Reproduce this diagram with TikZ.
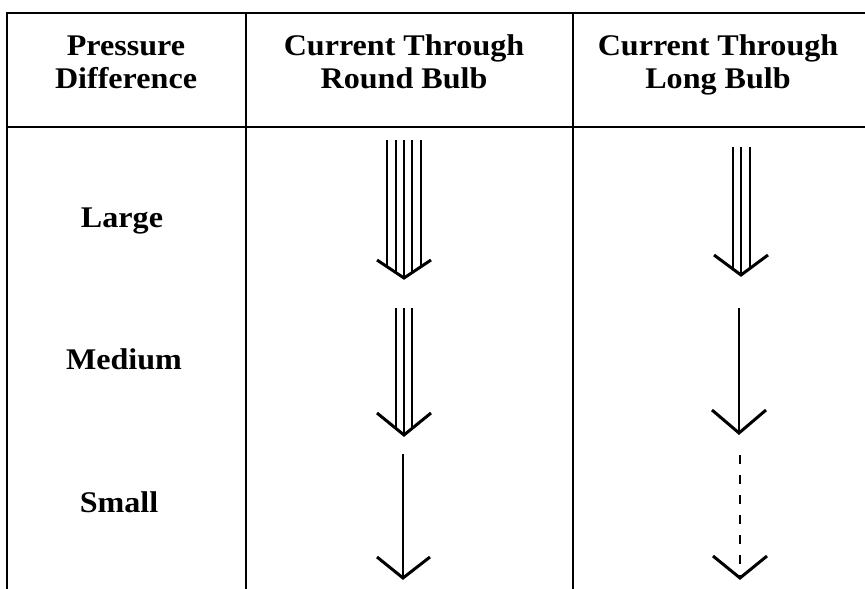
\documentclass[tikz,border=0pt]{standalone}
\usepackage{fontspec}
\setmainfont{Liberation Serif}[FakeStretch=1.07]
\begin{document}
\begin{tikzpicture}[x=1pt,y=-1pt,
  frame/.style={line width=2pt},
  shaft/.style={line width=2pt},
  wing/.style={line width=3pt, line join=miter},
  lbl/.style={font=\fontsize{30}{33}\selectfont\bfseries, align=center}]
\useasboundingbox (0,0) rectangle (865,589);
% frame
\draw[frame] (7,589) -- (7,13) -- (865,13);
\draw[frame] (7,127) -- (865,127);
\draw[frame] (246,13) -- (246,589);
\draw[frame] (573,13) -- (573,589);
% header
\node[lbl] (h1) at (126,67) {Pressure\\Difference\strut};
\node[lbl] (h2) at (404,67) {Current Through\\Round Bulb\strut};
\node[lbl] (h3) at (718,67) {Current Through\\Long Bulb\strut};
% row labels
\node[lbl] (r1) at (122,221) {Large\strut};
\node[lbl] (r2) at (124,363) {Medium\strut};
\node[lbl] (r3) at (119,506) {Small\strut};
% Round, large
\foreach \d in {-16.6,-8.3,0,8.3,16.6}
  \draw[shaft] ({404+\d},140) -- ({404+\d},{278-0.667*abs(\d)});
\draw[wing] (377,260) -- (404,278) -- (431,260);
% Long, large
\foreach \d in {-8.5,0,8.5}
  \draw[shaft] ({741+\d},147) -- ({741+\d},{275-0.75*abs(\d)});
\draw[wing] (714,255) -- (741,275) -- (768,255);
% Round, medium
\foreach \d in {-8.3,0,8.3}
  \draw[shaft] ({404+\d},308) -- ({404+\d},{435-0.8*abs(\d)});
\draw[wing] (377,413) -- (404,435) -- (431,413);
% Long, medium
\draw[shaft] (739,308) -- (739,433);
\draw[wing] (712,410) -- (739,433) -- (766,410);
% Round, small
\draw[shaft] (403,454) -- (403,578);
\draw[wing] (377,557) -- (403,578) -- (430,557);
% Long, small
\draw[shaft, dash pattern=on 9pt off 11pt] (740,455) -- (740,578);
\draw[wing] (713,556) -- (740,578) -- (767,556);
\end{tikzpicture}
\end{document}
